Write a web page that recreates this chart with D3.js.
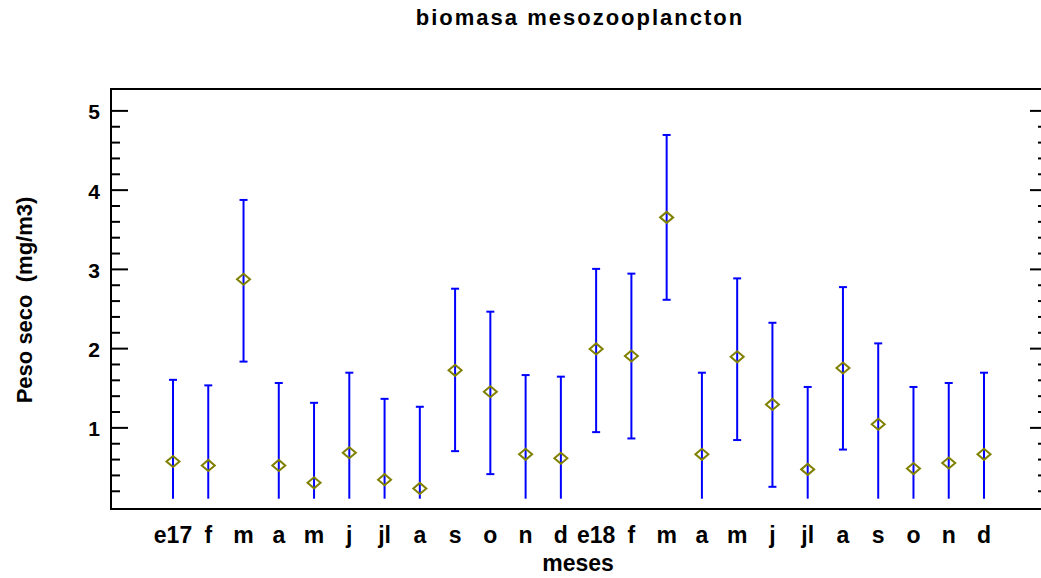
<!DOCTYPE html>
<html lang="es">
<head>
<meta charset="utf-8">
<title>biomasa mesozooplancton</title>
<script src="https://d3js.org/d3.v7.min.js"></script>
<style>
  body { margin: 0; background: #fff; }
  text { font-family: "Liberation Sans", Arial, sans-serif; font-weight: bold; fill: #000; }
</style>
</head>
<body>
<script>
'use strict';

// data
var meses = ["e17","f","m","a","m","j","jl","a","s","o","n","d",
             "e18","f","m","a","m","j","jl","a","s","o","n","d"];
var medias = [0.57, 0.52, 2.87, 0.52, 0.30, 0.68, 0.34, 0.23, 1.72, 1.45, 0.66, 0.61,
              1.99, 1.90, 3.65, 0.66, 1.89, 1.29, 0.47, 1.75, 1.04, 0.48, 0.55, 0.66];
var limSup = [1.60, 1.53, 3.87, 1.56, 1.31, 1.69, 1.36, 1.26, 2.75, 2.46, 1.66, 1.64,
              3.00, 2.94, 4.69, 1.69, 2.88, 2.32, 1.51, 2.77, 2.06, 1.51, 1.56, 1.69];
var limInf = [-0.46, -0.49, 1.83, -0.52, -0.71, -0.33, -0.68, -0.80, 0.70, 0.41, -0.35, -0.42,
              0.94, 0.86, 2.61, -0.37, 0.84, 0.25, -0.57, 0.72, 0.02, -0.55, -0.46, -0.37];
var yTicks = [1, 2, 3, 4, 5];
var yMinor = [0.2, 0.4, 0.6, 0.8, 1.2, 1.4, 1.6, 1.8, 2.2, 2.4, 2.6, 2.8,
              3.2, 3.4, 3.6, 3.8, 4.2, 4.4, 4.6, 4.8];

var W = 1041, H = 578;
var mLeft = 111, mRight = 1042, mTop = 89, mBottom = 509;
var clipMin = 0.1; // bars are cut at this level

var svg = d3.select("body").append("svg")
    .attr("width", W).attr("height", H);

var x = d3.scalePoint()
    .domain(d3.range(meses.length))
    .range([173, 984]);

var y = d3.scaleLinear()
    .domain([-0.03, 5.27])
    .range([mBottom, mTop]);

// frame
svg.append("rect")
    .attr("x", mLeft).attr("y", mTop)
    .attr("width", mRight - mLeft).attr("height", mBottom - mTop)
    .attr("fill", "none").attr("stroke", "#000").attr("stroke-width", 2);

function ticks(axis, xpos) {
    var g = svg.append("g").attr("transform", "translate(" + xpos + ",0)").call(axis);
    g.select(".domain").remove();
    g.selectAll("line").attr("stroke", "#000").attr("stroke-width", 2);
}

// left ticks (inward)
ticks(d3.axisRight(y).tickValues(yTicks).tickSize(17).tickFormat(""), mLeft);
ticks(d3.axisRight(y).tickValues(yMinor).tickSize(9).tickFormat(""), mLeft);
// right ticks (inward)
ticks(d3.axisLeft(y).tickValues(yTicks).tickSize(12).tickFormat(""), mRight);
ticks(d3.axisLeft(y).tickValues(yMinor).tickSize(4).tickFormat(""), mRight);

// y tick labels
svg.selectAll("text.ylab")
    .data(yTicks)
    .enter().append("text")
    .attr("class", "ylab")
    .attr("x", 100)
    .attr("y", function(d){ return y(d) + 9; })
    .attr("text-anchor", "end")
    .attr("font-size", "21px")
    .text(function(d){ return d; });

// x tick labels
svg.selectAll("text.xlab")
    .data(meses)
    .enter().append("text")
    .attr("class", "xlab")
    .attr("x", function(d, i){ return x(i); })
    .attr("y", 543)
    .attr("text-anchor", "middle")
    .attr("font-size", "23px")
    .text(function(d){ return d; });

// error bars
var idx = d3.range(meses.length);
svg.selectAll("line.bar")
    .data(idx)
    .enter().append("line")
    .attr("class", "bar")
    .attr("x1", function(i){ return x(i); })
    .attr("x2", function(i){ return x(i); })
    .attr("y1", function(i){ return y(limSup[i]); })
    .attr("y2", function(i){ return y(Math.max(limInf[i], clipMin)); })
    .attr("stroke", "#0000ff").attr("stroke-width", 2);

svg.selectAll("line.capTop")
    .data(idx)
    .enter().append("line")
    .attr("class", "capTop")
    .attr("x1", function(i){ return x(i) - 4; })
    .attr("x2", function(i){ return x(i) + 4; })
    .attr("y1", function(i){ return y(limSup[i]); })
    .attr("y2", function(i){ return y(limSup[i]); })
    .attr("stroke", "#0000ff").attr("stroke-width", 2);

svg.selectAll("line.capBot")
    .data(idx.filter(function(i){ return limInf[i] >= clipMin; }))
    .enter().append("line")
    .attr("class", "capBot")
    .attr("x1", function(i){ return x(i) - 4; })
    .attr("x2", function(i){ return x(i) + 4; })
    .attr("y1", function(i){ return y(limInf[i]); })
    .attr("y2", function(i){ return y(limInf[i]); })
    .attr("stroke", "#0000ff").attr("stroke-width", 2);

// means as diamonds
svg.selectAll("path.media")
    .data(idx)
    .enter().append("path")
    .attr("class", "media")
    .attr("d", function(i){
        var cx = x(i), cy = y(medias[i]);
        return "M" + (cx - 6.5) + "," + cy + "L" + cx + "," + (cy - 5.5) +
               "L" + (cx + 6.5) + "," + cy + "L" + cx + "," + (cy + 5.5) + "Z";
    })
    .attr("fill", "none").attr("stroke", "#808000").attr("stroke-width", 2);

// titles
svg.append("text")
    .attr("x", 580).attr("y", 25)
    .attr("text-anchor", "middle")
    .attr("font-size", "22px")
    .attr("letter-spacing", "2px")
    .text("biomasa mesozooplancton");

svg.append("text")
    .attr("x", 578).attr("y", 571)
    .attr("text-anchor", "middle")
    .attr("font-size", "23px")
    .text("meses");

svg.append("text")
    .attr("transform", "translate(32,300) rotate(-90)")
    .attr("text-anchor", "middle")
    .attr("font-size", "22px")
    .text("Peso seco\u00a0\u00a0(mg/m3)");
</script>
</body>
</html>
